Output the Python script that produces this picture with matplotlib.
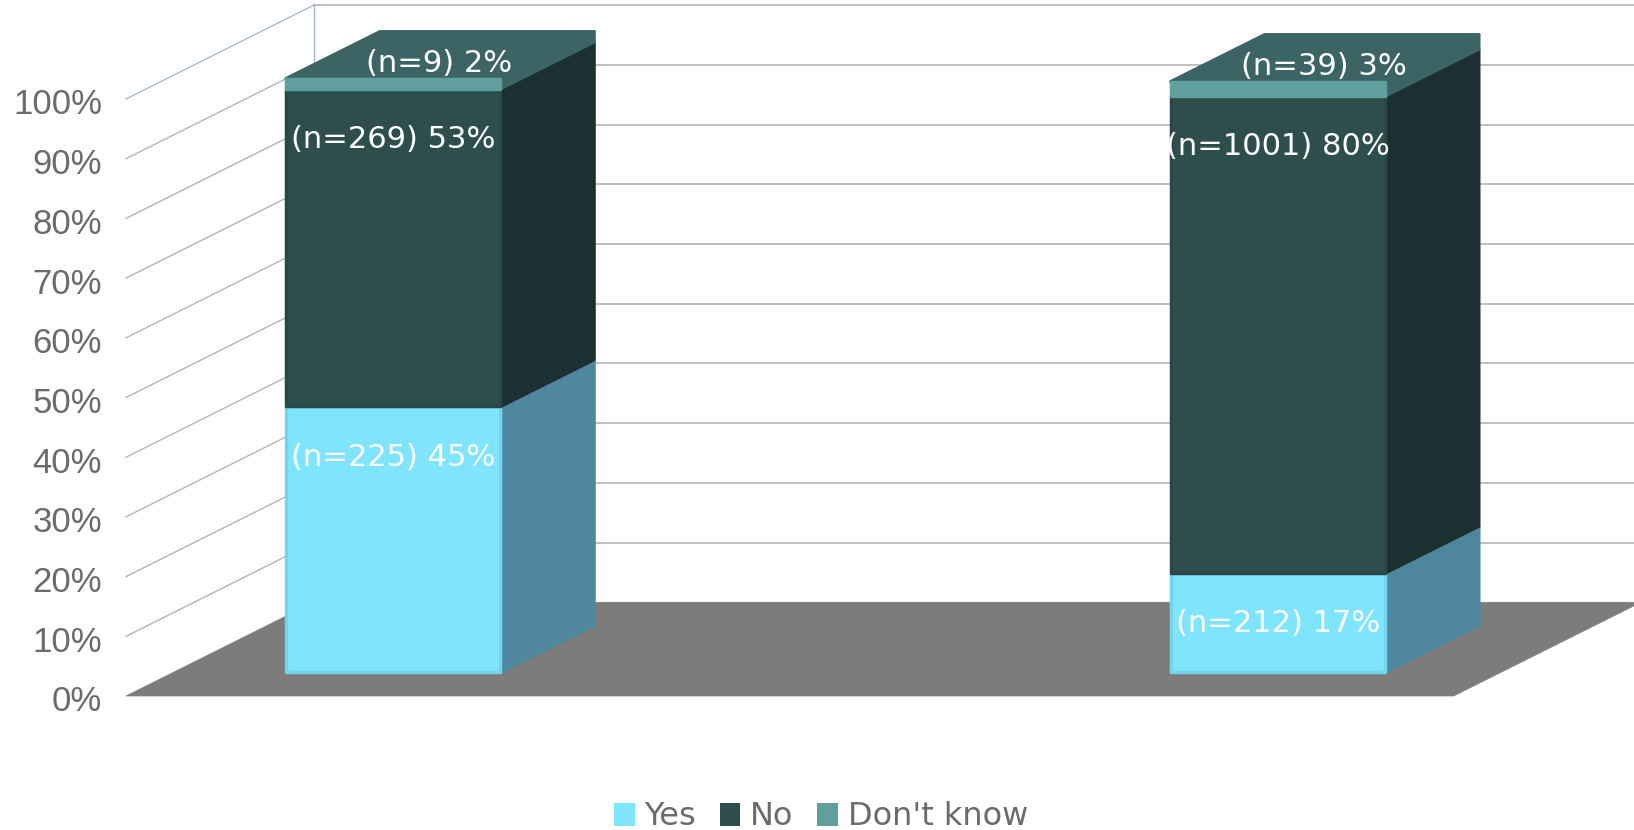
# %%
import matplotlib.pyplot as plt
from matplotlib.patches import Polygon, Patch

groups = [0, 1]
series = ['Yes', 'No', "Don't know"]
yes_n = [225, 212]
no_n = [269, 1001]
dk_n = [9, 39]
yes_pct = [45, 17]
no_pct = [53, 80]
dk_pct = [2, 3]
# segment heights
yes_h = [44.5, 16.6]
no_h = [53.2, 79.9]
dk_h = [1.7, 2.4]
ticks = list(range(0, 101, 10))

# front, side, top, front edge
yes_cols = ('#7FE5FE', '#4F879F', '#5FB0C8', '#74D4EC')
no_cols = ('#2E4E4E', '#1C2F31', '#3D6464', '#2A4647')
dk_cols = ('#5F9F9E', '#3D6464', '#3D6464', '#5F9F9E')

bar_w = 0.242
d_front, d_back = 0.255, 0.755
wall_dx, wall_dy = 0.212, 15.7
plane_l, plane_r = -0.248, 1.2526


def pr(u, pct, d):
    return (u + wall_dx * d, pct + wall_dy * d)


def face(ax, pts, col, z, edge=None, lw=2.5):
    ax.add_patch(Polygon(pts, closed=True, facecolor=col, edgecolor=edge or col,
                         lw=lw, joinstyle='round', zorder=z))


fig = plt.figure(figsize=(16.34, 8.3), dpi=100)
ax = fig.add_axes([0, 0, 1, 1])
ax.set_xlim(-345.4 / 884.7, (1634 - 345.4) / 884.7)
ax.set_ylim(-(830 - 696) / 5.97, 696 / 5.97)
ax.axis('off')

# floor
face(ax, [pr(plane_l, 0, 0), pr(plane_r, 0, 0), pr(plane_r, 0, 1), pr(plane_l, 0, 1)], '#7C7C7C', 1, lw=0.5)

# walls
for t in ticks[1:]:
    col = '#A6B8D6' if t == 100 else '#B4B4B4'
    ax.plot(*zip(pr(plane_l, t, 0), pr(plane_l, t, 1)), color=col, lw=1.0, zorder=0)
    ax.plot(*zip(pr(plane_l, t, 1), pr(plane_r, t, 1)), color='#B4B4B4', lw=1.2, zorder=0)
ax.plot(*zip(pr(plane_l, 0, 1), pr(plane_l, 100, 1)), color='#A6B8D6', lw=1.0, zorder=0)

for t in ticks:
    ax.text(plane_l - 0.027, t - 1.0, f'{t}%', ha='right', va='center', fontsize=25,
            family='Liberation Sans', color='#6B6B6B')

# bars
for g in groups:
    l, r = g - bar_w / 2, g + bar_w / 2
    base = 0
    segs = [(yes_n[g], yes_pct[g], yes_h[g], yes_cols),
            (no_n[g], no_pct[g], no_h[g], no_cols),
            (dk_n[g], dk_pct[g], dk_h[g], dk_cols)]
    for i, (n, p, h, cols) in enumerate(segs):
        top = base + h
        z = 2 + i
        face(ax, [pr(r, base, d_front), pr(r, base, d_back), pr(r, top, d_back), pr(r, top, d_front)], cols[1], z)
        face(ax, [pr(l, base, d_front), pr(r, base, d_front), pr(r, top, d_front), pr(l, top, d_front)],
             cols[0], z + 0.5, edge=cols[3])
        label = f'(n={n}) {p}%'
        lx, ly = pr(g, top, d_front)
        if i < 2:
            ax.text(lx, ly - 8.5, label, ha='center', va='center', fontsize=22, color='white', zorder=10)
        else:
            face(ax, [pr(l, top, d_front), pr(r, top, d_front), pr(r, top, d_back), pr(l, top, d_back)], cols[2], z + 0.2)
            ax.text(lx + 0.052, ly + 2.6, label, ha='center', va='center', fontsize=22, color='white', zorder=10)
        base = top

handles = [Patch(facecolor=yes_cols[0], label=series[0]),
           Patch(facecolor=no_cols[0], label=series[1]),
           Patch(facecolor=dk_cols[0], label=series[2])]
leg = ax.legend(handles=handles, loc='lower center', bbox_to_anchor=(0.5025, -0.026), ncol=3, frameon=False,
                fontsize=23, handlelength=0.63, handleheight=0.72, handletextpad=0.31, columnspacing=0.75,
                labelcolor='#6B6B6B', borderpad=0.1)

fig.savefig('out.png', dpi=100)
